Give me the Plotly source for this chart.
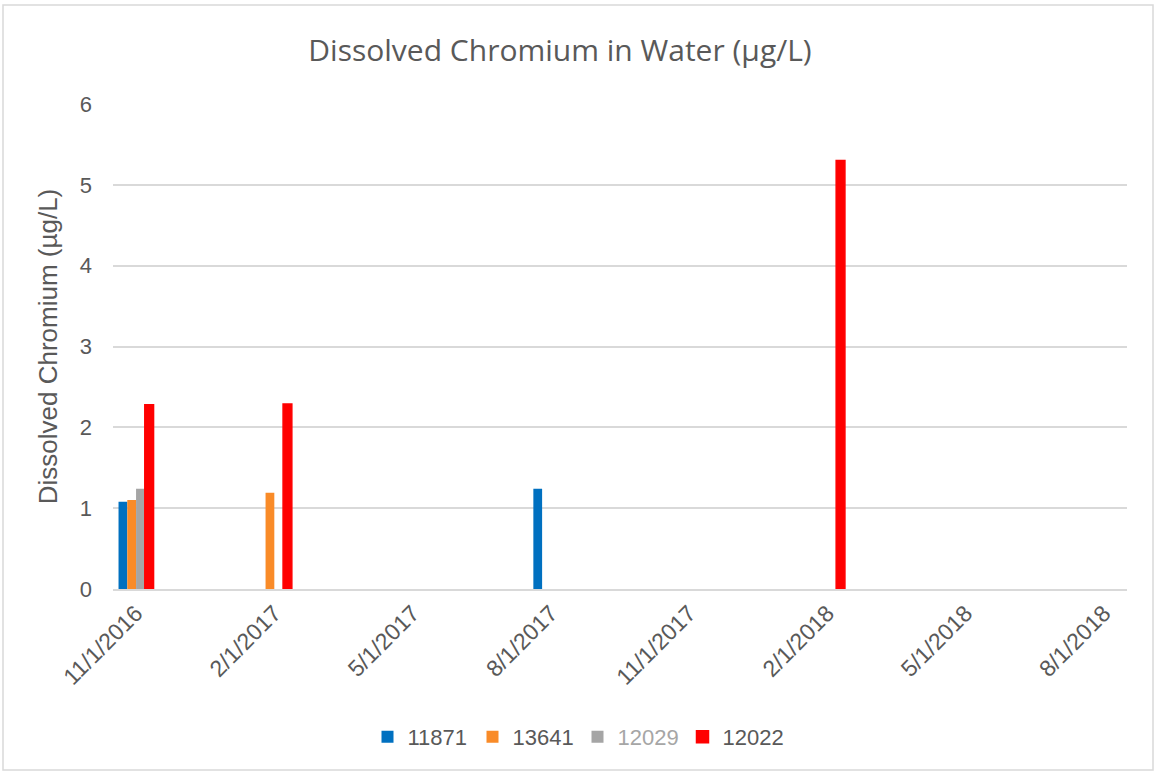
import plotly.graph_objects as go

# month categories on the x axis (Excel date axis, base unit = months)
months = ["11/1/2016", "12/1/2016", "1/1/2017", "2/1/2017", "3/1/2017", "4/1/2017",
          "5/1/2017", "6/1/2017", "7/1/2017", "8/1/2017", "9/1/2017", "10/1/2017",
          "11/1/2017", "12/1/2017", "1/1/2018", "2/1/2018", "3/1/2018", "4/1/2018",
          "5/1/2018", "6/1/2018", "7/1/2018", "8/1/2018"]
tick_labels = months[::3]

# sampled values per site (ug/L)
s11871_dates = ["11/1/2016", "8/1/2017"]
s11871_vals = [1.08, 1.24]
s13641_dates = ["11/1/2016", "2/1/2017"]
s13641_vals = [1.10, 1.19]
s12029_dates = ["11/1/2016"]
s12029_vals = [1.24]
s12022_dates = ["11/1/2016", "2/1/2017", "2/1/2018"]
s12022_vals = [2.28, 2.29, 5.30]

TXT = "#595959"
GRID = "#D9D9D9"

series = [
    ("11871", s11871_dates, s11871_vals, "#0070C0", 0),
    ("13641", s13641_dates, s13641_vals, "#F98B28", 0),
    ("<span style='color:#A6A6A6'>12029</span>", s12029_dates, s12029_vals, "#A5A5A5", 0),
    ("12022", s12022_dates, s12022_vals, "#FF0000", 1.5),
]

fig = go.Figure()
for name, d, v, col, lw in series:
    fig.add_trace(go.Bar(x=d, y=v, name=name,
                         marker=dict(color=col, line=dict(color=col, width=lw))))

fig.update_layout(
    width=1155, height=772,
    paper_bgcolor="white", plot_bgcolor="white",
    font=dict(family="Liberation Sans, Arial, sans-serif", size=22, color=TXT),
    title=dict(text="Dissolved Chromium in Water (µg/L)",
               font=dict(family="Open Sans, sans-serif", size=30, color=TXT),
               x=560 / 1155, xanchor="center", xref="container",
               y=1 - 50 / 772, yanchor="middle", yref="container"),
    margin=dict(l=113, r=28, t=104, b=183),
    barmode="group", bargap=0.24, bargroupgap=0,
    showlegend=True,
    legend=dict(orientation="h", xref="container", yref="container",
                x=0.5, xanchor="center", y=1 - 737 / 772, yanchor="middle",
                font=dict(size=22, color=TXT), itemwidth=30,
                entrywidth=60, entrywidthmode="pixels"),
    xaxis=dict(type="category", categoryorder="array", categoryarray=months,
               range=[-0.5, len(months) - 0.5],
               tickmode="array", tickvals=tick_labels, ticktext=tick_labels,
               tickangle=-45, showgrid=False, showline=True,
               linecolor=GRID, linewidth=1.5, ticks="",
               tickfont=dict(size=23)),
    yaxis=dict(range=[0, 6], dtick=1, showgrid=True, gridcolor=GRID, gridwidth=1.5,
               zeroline=False, showline=False, ticks="", ticklabelstandoff=20,
               title=dict(text="Dissolved Chromium (µg/L)", standoff=14,
                          font=dict(size=26, color=TXT))),
    shapes=[dict(type="rect", xref="paper", yref="paper",
                 x0=(3 - 113) / 1014, x1=(1153 - 113) / 1014,
                 y0=(589 - 770) / 485, y1=(589 - 5) / 485,
                 line=dict(color="#D9D9D9", width=1.5), layer="below")],
)

fig.write_html("out.html", config={"displayModeBar": False},
               post_script="document.body.style.margin='0';")
